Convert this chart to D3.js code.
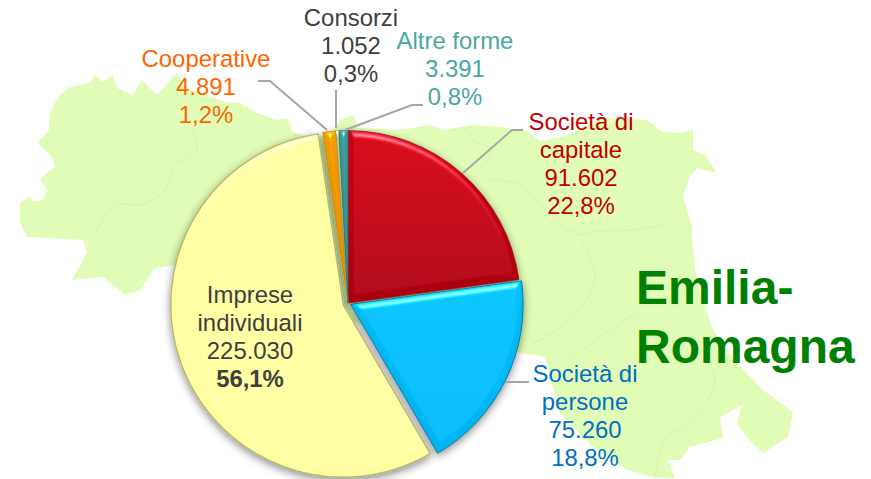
<!DOCTYPE html>
<html><head><meta charset="utf-8">
<script src="https://cdn.jsdelivr.net/npm/d3@7/dist/d3.min.js"></script>
<style>html,body{margin:0;padding:0;background:#fff}svg{display:block}text{font-family:"Liberation Sans",Arial,sans-serif}</style>
</head><body><svg id="c" width="871" height="479"></svg>
<script>
const categories=["Società di capitale","Società di persone","Imprese individuali","Cooperative","Consorzi","Altre forme"];
const values=[91602,75260,225030,4891,1052,3391];
const valueLabels=["91.602","75.260","225.030","4.891","1.052","3.391"];
const shareLabels=["22,8%","18,8%","56,1%","1,2%","0,3%","0,8%"];
const sliceColors=["#d00014","#00bcfa","#ffffa2","#f39c00","#b9c98a","#3f9a9a"];
const sliceDark=["#a80010","#00b4f0","#ffffa0","#e08a00","#a9b97a","#2f8585"];
const labelColors=["#c00000","#0070c0","#404040","#ff6600","#404040","#4ba8a0"];
const explode=[0,3,5,0,0,0];
const mapOutline=[[20,203],[30,196],[33,202],[43,200],[47,190],[40,180],[48,172],[55,167],[52,157],[38,143],[49,130],[50,113],[58,97],[70,87],[90,83],[95,75],[102,82],[113,75],[117,88],[133,95],[142,80],[157,95],[170,80],[177,73],[187,88],[205,95],[225,102],[240,103],[257,113],[277,120],[287,118],[293,132],[307,137],[330,135],[340,120],[353,115],[358,128],[400,130],[430,125],[443,130],[473,125],[503,127],[515,130],[527,131],[540,141],[563,137],[577,130],[603,118],[647,120],[663,132],[680,133],[693,130],[693,150],[705,155],[717,173],[697,168],[689,178],[683,197],[692,227],[692,240],[697,283],[713,330],[737,363],[763,390],[793,412],[788,437],[763,453],[747,438],[737,423],[742,405],[720,417],[723,438],[690,447],[680,460],[668,460],[675,478],[657,478],[627,470],[590,445],[560,413],[552,385],[545,357],[520,353],[480,340],[400,340],[300,300],[175,265],[155,268],[140,290],[125,295],[103,277],[72,280],[87,253],[83,240],[27,237],[20,222]];
const mapBorders=[[[193,128],[197,150],[175,165],[165,190],[140,205],[115,205],[95,235]],[[465,128],[475,142],[492,150],[480,170]],[[490,180],[520,185],[560,225],[585,235],[590,232],[630,230],[665,225]],[[582,240],[595,280],[570,320],[530,345]],[[640,310],[610,330],[570,360]],[[690,340],[715,380],[690,420],[665,440],[655,478]]];

const svg=d3.select("#c"),defs=svg.append("defs");
const cx=348,cy=303,r=172.5;

// background map
svg.append("path").attr("d",d3.line().curve(d3.curveLinearClosed)(mapOutline)).attr("fill","#e0fcb6");
svg.selectAll(".b").data(mapBorders).join("path").attr("d",d3.line().curve(d3.curveCatmullRom)).attr("fill","none").attr("stroke","#d9f2b4").attr("stroke-width",1);

// gradients
sliceColors.forEach((c,i)=>{
  const g=defs.append("linearGradient").attr("id","g"+i).attr("x1",0).attr("y1",0).attr("x2",0).attr("y2",1);
  g.append("stop").attr("offset","0%").attr("stop-color",c);
  g.append("stop").attr("offset","100%").attr("stop-color",sliceDark[i]);
});
function makeBevel(id,k){
  const f=defs.append("filter").attr("id",id).attr("x","-10%").attr("y","-10%").attr("width","120%").attr("height","120%").attr("color-interpolation-filters","sRGB");
  f.append("feGaussianBlur").attr("in","SourceAlpha").attr("stdDeviation",3).attr("result","b");
  const sp=f.append("feSpecularLighting").attr("in","b").attr("surfaceScale",5).attr("specularConstant",1).attr("specularExponent",22).attr("lighting-color","#fff").attr("result","s");
  sp.append("feDistantLight").attr("azimuth",270).attr("elevation",35);
  f.append("feComposite").attr("in","s").attr("in2","SourceAlpha").attr("operator","in").attr("result","sc");
  f.append("feComposite").attr("in","SourceGraphic").attr("in2","sc").attr("operator","arithmetic").attr("k1",0).attr("k2",1).attr("k3",k).attr("k4",0);
}
makeBevel("bevel",.55);
makeBevel("bevelSoft",.25);
const shadow=defs.append("filter").attr("id","shadow").attr("x","-15%").attr("y","-15%").attr("width","130%").attr("height","130%");
shadow.append("feDropShadow").attr("dx",0).attr("dy",3).attr("stdDeviation",4).attr("flood-color","#000").attr("flood-opacity",.45);

// pie
const pie=d3.pie().sort(null).value(d=>d)(values);
const arc=d3.arc().innerRadius(0).outerRadius(r);
const strokes=["#8a1018","#00587a","#b4b672","#c08000","#8f9f6a","#2a7070"];
const gp=svg.append("g").attr("filter","url(#shadow)");
gp.selectAll("g").data(pie).join("g").attr("transform",(d,i)=>{
  const m=(d.startAngle+d.endAngle)/2,e=explode[i];
  return `translate(${cx+Math.sin(m)*e},${cy-Math.cos(m)*e})`;
}).append("path").attr("d",arc).attr("fill",(d,i)=>`url(#g${i})`).attr("stroke",(d,i)=>strokes[i]).attr("stroke-width",(d,i)=>i==2?1.4:.7).attr("filter",(d,i)=>i==2?"url(#bevelSoft)":"url(#bevel)");

// leader lines
const leaders=[[[523,130],[512,130],[463,173]],[[529,382],[505,382]],[],[[258,81],[270,81],[327,130]],[[336,90],[336,128]],[[423,105],[412,105],[345,130]]];
svg.selectAll(".l").data(leaders).join("path").attr("d",d3.line()).attr("fill","none").attr("stroke","#a6a6a6").attr("stroke-width",2);

// labels
const labelLines=[["Società di","capitale"],["Società di","persone"],["Imprese","individuali"],["Cooperative"],["Consorzi"],["Altre forme"]];
const labelPos=[[581,130],[585,382],[250,303],[206,67],[351,26],[455,49]];
const labelStep=27.9;
categories.forEach((c,i)=>{
  const t=svg.append("text").attr("text-anchor","middle").attr("font-size",23.9).attr("fill",labelColors[i]);
  const rows=[...labelLines[i],valueLabels[i],shareLabels[i]];
  rows.forEach((s,k)=>{
    t.append("tspan").attr("x",labelPos[i][0]).attr("y",labelPos[i][1]+k*labelStep).attr("font-weight",i==2&&k==rows.length-1?"bold":null).text(s);
  });
});
// title
const titleLines=["Emilia-","Romagna"];
svg.selectAll(".t").data(titleLines).join("text").attr("x",636).attr("y",(d,i)=>304+i*58.5).attr("font-size",48).attr("font-weight","bold").attr("fill","#008000").text(d=>d);
</script></body></html>
